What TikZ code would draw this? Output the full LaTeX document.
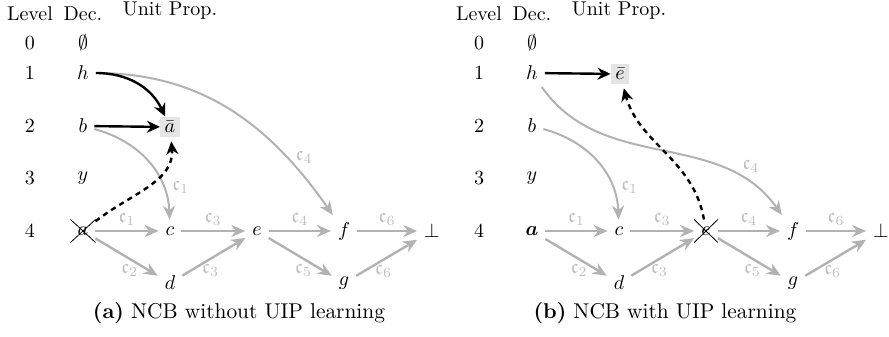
\documentclass[tikz,border=0pt]{standalone}
\usepackage{amsmath,amssymb}
\usetikzlibrary{arrows.meta,shapes.misc}
\begin{document}
\begin{tikzpicture}[x=0.5pt,y=-0.5pt,
  every node/.style={inner sep=3.33pt},
  hdr/.style={font=\fontsize{10}{12}\selectfont},
  unit/.style={fill=gray!20, inner sep=2.2pt},
  crossed/.style={cross out, draw=black, line width=0.4pt, inner sep=3.4pt},
  bk/.style={draw=black, line width=1.2pt, -{Stealth[length=6.5pt,width=6pt]}},
  bkd/.style={bk, dash pattern=on 2.6pt off 2.2pt, shorten >=2pt},
  ge/.style={draw=gray!60, line width=1.2pt, -{Stealth[length=7pt,width=6pt]}},
  gc/.style={draw=gray!60, line width=1pt, -{Stealth[length=7pt,width=6pt]}},
  lab/.style={text=gray!50, inner sep=2pt},
  captext/.style={font=\fontsize{10.7}{13}\selectfont}]
\useasboundingbox (0,0) rectangle (889,337);

% ---------------- panel (a) ----------------
\node[hdr] (aL) at (30,14) {Level};
\node[hdr] (aD) at (83,14) {Dec.};
\node[hdr] (aU) at (170,11) {Unit Prop.};
\node (al0) at (30,43) {0};
\node (al1) at (30,73) {1};
\node (al2) at (30,126) {2};
\node (al3) at (30,178) {3};
\node (al4) at (30,231) {4};
\node (aemp) at (83,43) {$\emptyset$};
\node (ah) at (83,73) {$h$};
\node (ab) at (83,126) {$b$};
\node (ay) at (83,178) {$y$};
\node[crossed] (aa) at (83,231) {$a$};
\node[unit] (aabar) at (170,127) {$\bar{a}$};
\node (ac) at (170,231) {$c$};
\node (ad) at (170,283) {$d$};
\node (ae) at (257,231) {$e$};
\node (af) at (344,231) {$f$};
\node (ag) at (344,283) {$g$};
\node (abot) at (432,231) {$\bot$};

\draw[gc] (ah) to[out=0,in=125] node[lab,pos=0.76,right=2pt] {$\mathfrak{c}_4$} (af);
\draw[gc] (ab) to[out=-15,in=92] node[lab,pos=0.75,right=2pt] {$\mathfrak{c}_1$} (ac);
\draw[ge] (aa) -- node[lab,above] {$\mathfrak{c}_1$} (ac);
\draw[ge] (aa) -- node[lab,below,pos=0.55] {$\mathfrak{c}_2$} (ad);
\draw[ge] (ac) -- node[lab,above] {$\mathfrak{c}_3$} (ae);
\draw[ge] (ad) -- node[lab,below,pos=0.45] {$\mathfrak{c}_3$} (ae);
\draw[ge] (ae) -- node[lab,above] {$\mathfrak{c}_4$} (af);
\draw[ge] (ae) -- node[lab,below,pos=0.55] {$\mathfrak{c}_5$} (ag);
\draw[ge] (af) -- node[lab,above] {$\mathfrak{c}_6$} (abot);
\draw[ge] (ag) -- node[lab,below,pos=0.45] {$\mathfrak{c}_6$} (abot);
\draw[bk] (ah) to[out=0,in=115] (aabar);
\draw[bk] (ab) -- (aabar);
\draw[bkd] (aa) to[out=38,in=-85] (aabar);
\node[captext] (acap) at (239,313) {\textbf{(a)} NCB without UIP learning};

% ---------------- panel (b) ----------------
\node[hdr] (bL) at (479,14) {Level};
\node[hdr] (bD) at (532,14) {Dec.};
\node[hdr] (bU) at (619,11) {Unit Prop.};
\node (bl0) at (479,43) {0};
\node (bl1) at (479,73) {1};
\node (bl2) at (479,126) {2};
\node (bl3) at (479,178) {3};
\node (bl4) at (479,231) {4};
\node (bemp) at (532,43) {$\emptyset$};
\node (bh) at (532,73) {$h$};
\node (bb) at (532,126) {$b$};
\node (by) at (532,178) {$y$};
\node (ba) at (532,231) {$\boldsymbol{a}$};
\node[unit] (bebar) at (620,74) {$\bar{e}$};
\node (bc) at (619,231) {$c$};
\node (bd) at (619,283) {$d$};
\node[crossed] (be) at (706,231) {$e$};
\node (bf) at (793,231) {$f$};
\node (bg) at (793,283) {$g$};
\node (bbot) at (881,231) {$\bot$};

\draw[gc] (bh) to[out=-55,in=125] node[lab,pos=0.85,above=3pt] {$\mathfrak{c}_4$} (bf);
\draw[gc] (bb) to[out=-15,in=92] node[lab,pos=0.75,right=2pt] {$\mathfrak{c}_1$} (bc);
\draw[ge] (ba) -- node[lab,above] {$\mathfrak{c}_1$} (bc);
\draw[ge] (ba) -- node[lab,below,pos=0.55] {$\mathfrak{c}_2$} (bd);
\draw[ge] (bc) -- node[lab,above] {$\mathfrak{c}_3$} (be);
\draw[ge] (bd) -- node[lab,below,pos=0.45] {$\mathfrak{c}_3$} (be);
\draw[ge] (be) -- node[lab,above] {$\mathfrak{c}_4$} (bf);
\draw[ge] (be) -- node[lab,below,pos=0.55] {$\mathfrak{c}_5$} (bg);
\draw[ge] (bf) -- node[lab,above] {$\mathfrak{c}_6$} (bbot);
\draw[ge] (bg) -- node[lab,below,pos=0.45] {$\mathfrak{c}_6$} (bbot);
\draw[bk] (bh) -- (bebar);
\draw[bkd] (be) to[out=100,in=-75] (bebar);
\node[captext] (bcap) at (665,313) {\textbf{(b)} NCB with UIP learning};
\end{tikzpicture}
\end{document}
